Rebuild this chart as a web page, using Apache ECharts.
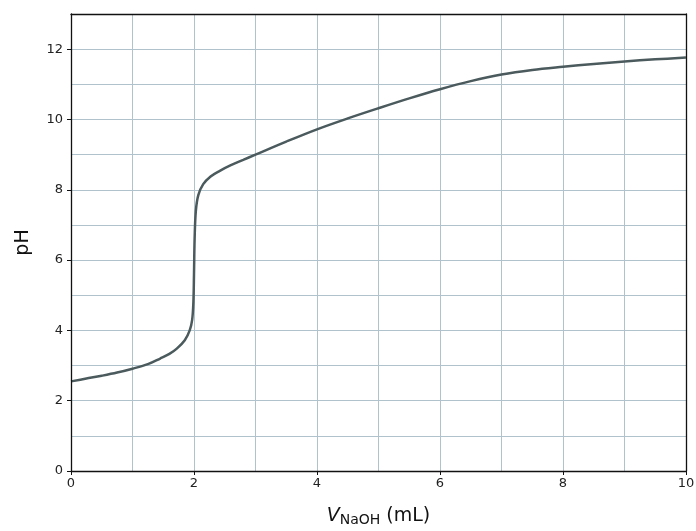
<!DOCTYPE html>
<html>
<head>
<meta charset="utf-8">
<script src="https://cdn.jsdelivr.net/npm/echarts@6/dist/echarts.min.js"></script>
<style>
  html, body { margin: 0; padding: 0; background: #fff; }
  #titration { width: 696px; height: 531px; }
</style>
</head>
<body>
<div id="titration"></div>
<script>
  // volume of NaOH added (mL)
  var volume = [0, 0.25, 0.5, 0.75, 1.0, 1.25, 1.45, 1.6, 1.72, 1.85, 1.93, 1.97, 1.99, 2.0,
    2.01, 2.03, 2.07, 2.15, 2.27, 2.42, 2.6, 2.8, 3.0, 3.5, 4.0, 4.5, 5.0, 5.5, 6.0, 6.5,
    7.0, 7.5, 8.0, 8.5, 9.0, 9.5, 10];
  // measured pH
  var ph = [2.55, 2.63, 2.71, 2.8, 2.91, 3.04, 3.2, 3.33, 3.48, 3.72, 4.0, 4.3, 4.8, 5.6,
    6.6, 7.4, 7.85, 8.16, 8.38, 8.54, 8.7, 8.85, 9.0, 9.37, 9.72, 10.03, 10.32, 10.6, 10.86, 11.09,
    11.28, 11.41, 11.5, 11.58, 11.65, 11.71, 11.76];
  var xTicks = [0, 2, 4, 6, 8, 10];
  var yTicks = [0, 2, 4, 6, 8, 10, 12];

  var points = volume.map(function (v, i) { return [v, ph[i]]; });
  var font = 'DejaVu Sans';
  var gridColor = '#b0c2cb';

  var myChart = echarts.init(document.getElementById('titration'));
  var options = {
    backgroundColor: '#fff',
    animation: false,
    grid: { left: 71, right: 10, top: 14, bottom: 60, outerBoundsMode: 'none' },
    xAxis: [{
      type: 'value', min: 0, max: 10, interval: 1,
      name: '{v|V}{s|NaOH}{n| (mL)}',
      nameLocation: 'middle', nameGap: 34,
      nameTextStyle: {
        rich: {
          v: { fontFamily: font, fontSize: 19, fontStyle: 'italic', color: '#111' },
          s: { fontFamily: font, fontSize: 14, color: '#111', padding: [8, 0, 0, 0] },
          n: { fontFamily: font, fontSize: 19, color: '#111' }
        }
      },
      z: 3,
      axisLine: { onZero: false, lineStyle: { color: '#111', width: 1.3 } },
      axisTick: { customValues: xTicks, length: 4, lineStyle: { color: '#111' } },
      axisLabel: { customValues: xTicks, fontFamily: font, fontSize: 13, color: '#222', margin: 6 },
      splitLine: { show: false }
    }, {
      // grid lines at every 1 mL plus the top frame
      type: 'value', min: 0, max: 10, interval: 1, position: 'top',
      z: 1,
      axisLine: { show: true, onZero: false, lineStyle: { color: '#111', width: 1.3 } },
      axisTick: { show: false },
      axisLabel: { show: false },
      splitLine: { show: true, showMinLine: false, showMaxLine: false, lineStyle: { color: gridColor, width: 1 } }
    }],
    yAxis: [{
      type: 'value', min: 0, max: 13, interval: 1,
      name: 'pH', nameLocation: 'middle', nameGap: 38, nameRotate: 90,
      nameTextStyle: { fontFamily: font, fontSize: 19, color: '#111' },
      z: 3,
      axisLine: { show: true, onZero: false, lineStyle: { color: '#111', width: 1.3 } },
      axisTick: { show: true, customValues: yTicks, length: 4, lineStyle: { color: '#111' } },
      axisLabel: { customValues: yTicks, fontFamily: font, fontSize: 13, color: '#222', margin: 8 },
      splitLine: { show: false }
    }, {
      type: 'value', min: 0, max: 13, interval: 1, position: 'right',
      z: 1,
      axisLine: { show: true, onZero: false, lineStyle: { color: '#111', width: 1.3 } },
      axisTick: { show: false },
      axisLabel: { show: false },
      splitLine: { show: true, showMinLine: false, showMaxLine: false, lineStyle: { color: gridColor, width: 1 } }
    }],
    series: [{
      type: 'line',
      data: points,
      smooth: 0.35,
      showSymbol: false,
      z: 2,
      lineStyle: { color: '#4b5a5d', width: 2.5 }
    }]
  };
  myChart.setOption(options);
</script>
</body>
</html>
